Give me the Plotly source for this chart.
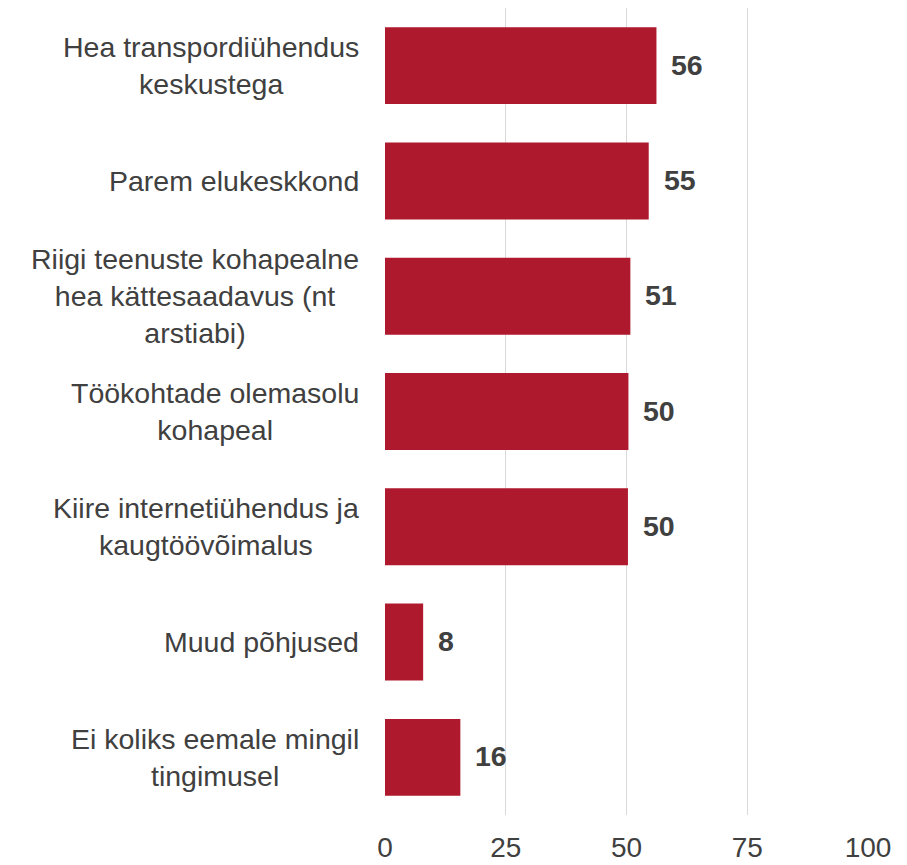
import plotly.graph_objects as go

categories = [
    "Hea transpordiühendus<br>keskustega",
    "Parem elukeskkond",
    "Riigi teenuste kohapealne<br>hea kättesaadavus (nt<br>arstiabi)",
    "Töökohtade olemasolu<br>kohapeal",
    "Kiire internetiühendus ja<br>kaugtöövõimalus",
    "Muud põhjused",
    "Ei koliks eemale mingil<br>tingimusel",
]
values = [56.2, 54.6, 50.8, 50.4, 50.3, 7.9, 15.6]
value_labels = ["56", "55", "51", "50", "50", "8", "16"]
tick_vals = [0, 25, 50, 75, 100]

BAR = "#AF192D"
TXT = "#404040"
FONT = "Liberation Sans, Arial, sans-serif"

fig = go.Figure(go.Bar(
    x=values, y=categories, orientation="h",
    marker=dict(color=BAR, line=dict(width=0)),
    hoverinfo="skip",
))

annotations = []
for c, v, t in zip(categories, values, value_labels):
    annotations.append(dict(
        x=v, y=c, xref="x", yref="y", text="<b>%s</b>" % t,
        showarrow=False, xanchor="left", yanchor="middle", xshift=13, yshift=1,
        font=dict(family=FONT, size=28.5, color=TXT),
    ))
    annotations.append(dict(
        x=0, y=c, xref="paper", yref="y", text=c,
        showarrow=False, xanchor="right", yanchor="middle", xshift=-24,
        align="center",
        font=dict(family=FONT, size=28.5, color=TXT),
    ))

fig.update_layout(
    width=899, height=857,
    margin=dict(l=377, r=39, t=0, b=50, autoexpand=False),
    paper_bgcolor="white", plot_bgcolor="white",
    bargap=0.333,
    showlegend=False,
    annotations=annotations,
    xaxis=dict(
        range=[0, 100], tickvals=tick_vals, ticktext=[str(t) for t in tick_vals],
        showgrid=True, gridcolor="#D9D9D9", gridwidth=1.3,
        zeroline=False, showline=False, ticks="",
        tickfont=dict(family=FONT, size=28, color=TXT),
        ticklabelstandoff=13, automargin=False,
    ),
    yaxis=dict(
        categoryorder="array", categoryarray=categories,
        autorange="reversed", showticklabels=False, automargin=False,
        showgrid=False, zeroline=False, showline=False, ticks="",
    ),
)

fig.write_html("out.html")
